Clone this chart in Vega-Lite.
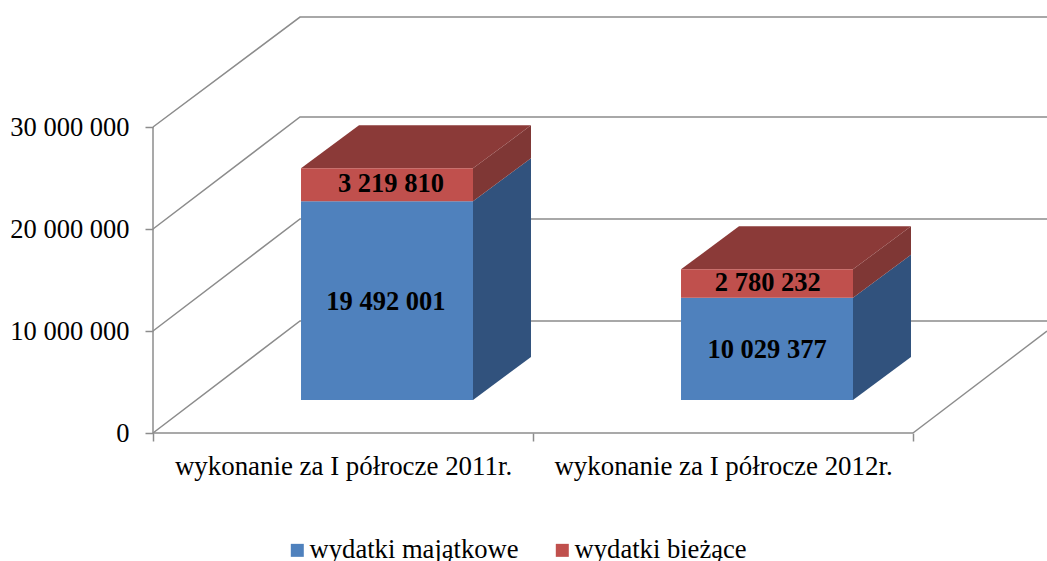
{"$schema":"https://vega.github.io/schema/vega-lite/v6.json","autosize":"none","width":894,"height":416,"padding":{"left":153,"top":17,"right":0,"bottom":128},"background":"white","config":{"view":{"stroke":null},"font":"Liberation Serif"},
"datasets":{
"frame":[
{"id":"axisY","i":0,"x":0,"y":0},{"id":"axisY","i":1,"x":0,"y":30000000},
{"id":"axisX","i":0,"x":0,"y":0},{"id":"axisX","i":1,"x":2,"y":0},
{"id":"floorR","i":0,"x":2,"y":0},{"id":"floorR","i":1,"x":2.3526,"y":10000000},
{"id":"g0","i":0,"x":0,"y":0},{"id":"g0","i":1,"x":0.3868,"y":10980000},{"id":"g0","i":2,"x":2.3526,"y":10980000},
{"id":"g1","i":0,"x":0,"y":10000000},{"id":"g1","i":1,"x":0.3868,"y":20980000},{"id":"g1","i":2,"x":2.3526,"y":20980000},
{"id":"g2","i":0,"x":0,"y":20000000},{"id":"g2","i":1,"x":0.3868,"y":30980000},{"id":"g2","i":2,"x":2.3526,"y":30980000},
{"id":"g3","i":0,"x":0,"y":30000000},{"id":"g3","i":1,"x":0.3868,"y":40780000},{"id":"g3","i":2,"x":2.3526,"y":40780000}],
"front":[
{"series":"wydatki majątkowe","x":0.3895,"x2":0.8421,"y":3235000,"y2":22727001},
{"series":"wydatki bieżące","x":0.3895,"x2":0.8421,"y":22727001,"y2":25946811},
{"series":"wydatki majątkowe","x":1.3895,"x2":1.8421,"y":3235000,"y2":13264377},
{"series":"wydatki bieżące","x":1.3895,"x2":1.8421,"y":13264377,"y2":16044609}],
"side":[
{"id":"b1","c":"#31527D","x":0.8421,"y":3235000,"y2":22727001},{"id":"b1","c":"#31527D","x":0.9947,"y":7451000,"y2":26943001},
{"id":"r1","c":"#7F3735","x":0.8421,"y":22727001,"y2":25946811},{"id":"r1","c":"#7F3735","x":0.9947,"y":26943001,"y2":30162811},
{"id":"b2","c":"#31527D","x":1.8421,"y":3235000,"y2":13264377},{"id":"b2","c":"#31527D","x":1.9947,"y":7451000,"y2":17480377},
{"id":"r2","c":"#7F3735","x":1.8421,"y":13264377,"y2":16044609},{"id":"r2","c":"#7F3735","x":1.9947,"y":17480377,"y2":20260609}],
"top":[
{"id":"t1","y":25946811,"x":0.3895,"x2":0.8421},{"id":"t1","y":30162811,"x":0.5421,"x2":0.9947},
{"id":"t2","y":16044609,"x":1.3895,"x2":1.8421},{"id":"t2","y":20260609,"x":1.5421,"x2":1.9947}],
"labels":[
{"t":"19 492 001","x":0.613,"y":12840000},
{"t":"3 219 810","x":0.626,"y":24400000},
{"t":"10 029 377","x":1.616,"y":8140000},
{"t":"2 780 232","x":1.618,"y":14700000}]},
"data":{"name":"frame"},
"layer":[
{"data":{"name":"frame"},"mark":{"type":"line","color":"#8C8C8C","strokeWidth":1.5},
"encoding":{"x":{"field":"x","type":"quantitative","scale":{"domain":[0,2.3526],"nice":false,"zero":false},"title":null,"axis":{"values":[0,0.5,1,1.5,2],"domain":false,"grid":false,"tickSize":8,"tickColor":"#8C8C8C","tickWidth":1.5,"tickOpacity":{"condition":{"test":"datum.value % 1 !== 0","value":0},"value":1},"labelExpr":"datum.value==0.5?'wykonanie za I półrocze 2011r.':datum.value==1.5?'wykonanie za I półrocze 2012r.':''","labelFont":"Liberation Serif","labelFontSize":26.9,"labelColor":"#000000","labelPadding":12,"labelAngle":0,"labelOverlap":false,"labelFlush":false,"labelBound":false,"labelLimit":600}},
"y":{"field":"y","type":"quantitative","scale":{"domain":[0,40784314],"nice":false,"zero":false},"title":null,"axis":{"values":[0,10000000,20000000,30000000],"domain":false,"grid":false,"tickSize":8,"tickColor":"#8C8C8C","tickWidth":1.5,"labelExpr":"replace(format(datum.value,',d'),/,/g,' ')","labelFont":"Liberation Serif","labelFontSize":26.5,"labelColor":"#000000","labelPadding":16,"labelBound":false,"labelFlush":false,"labelOverlap":false}},
"detail":{"field":"id"},"order":{"field":"i","type":"quantitative"}}},
{"data":{"name":"side"},"mark":{"type":"area","orient":"vertical"},
"encoding":{"x":{"field":"x","type":"quantitative"},"y":{"field":"y","type":"quantitative","stack":null},"y2":{"field":"y2"},"detail":{"field":"id"},"fill":{"field":"c","type":"nominal","scale":null,"legend":null}}},
{"data":{"name":"top"},"mark":{"type":"area","orient":"horizontal","color":"#8B3A38"},
"encoding":{"y":{"field":"y","type":"quantitative"},"x":{"field":"x","type":"quantitative","stack":null},"x2":{"field":"x2"},"detail":{"field":"id"}}},
{"data":{"name":"front"},"mark":{"type":"rect"},
"encoding":{"x":{"field":"x","type":"quantitative"},"x2":{"field":"x2"},"y":{"field":"y","type":"quantitative"},"y2":{"field":"y2"},
"color":{"field":"series","type":"nominal","scale":{"domain":["wydatki majątkowe","wydatki bieżące"],"range":["#4F81BD","#C0504D"]},"legend":{"title":null,"orient":"none","direction":"horizontal","columns":2,"legendX":131,"legendY":520,"symbolType":"square","symbolSize":169,"symbolStrokeWidth":0,"symbolOpacity":1,"labelFont":"Liberation Serif","labelFontSize":26.6,"labelColor":"#000000","labelOffset":-1,"columnPadding":30,"labelLimit":400,"padding":0}}}},
{"data":{"name":"labels"},"mark":{"type":"text","font":"Liberation Serif","fontSize":26.5,"fontWeight":"bold","color":"#000000","baseline":"middle","align":"center"},
"encoding":{"x":{"field":"x","type":"quantitative"},"y":{"field":"y","type":"quantitative"},"text":{"field":"t"}}}
]}
